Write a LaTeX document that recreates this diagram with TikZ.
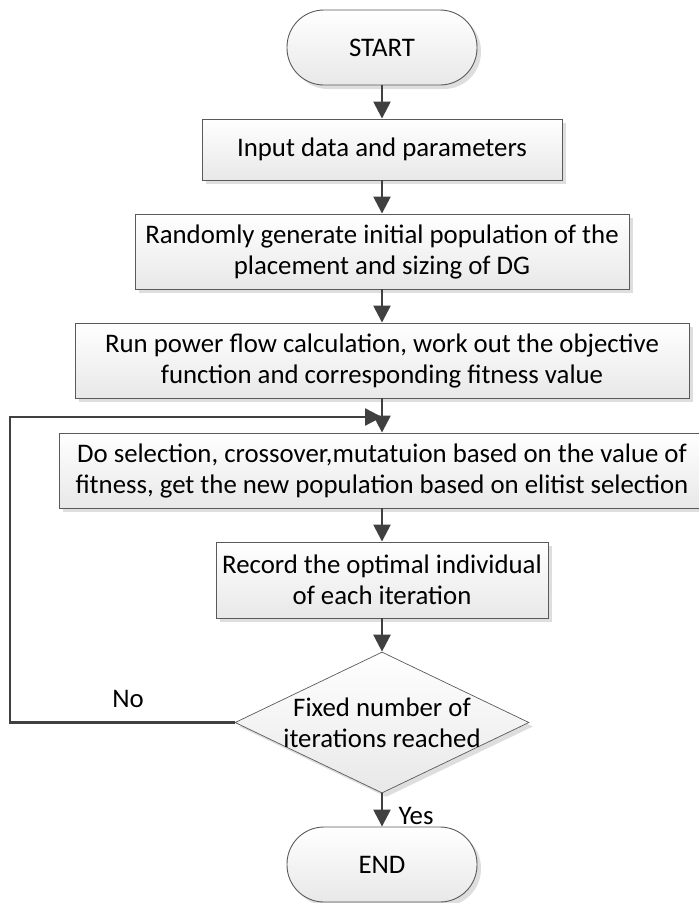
\documentclass[tikz,border=0pt]{standalone}
\usepackage{fontspec}
\setmainfont{Carlito}
\usetikzlibrary{shapes.geometric,arrows.meta,shadows}
\definecolor{linegray}{HTML}{404040}
\definecolor{boxborder}{HTML}{5A5A5A}
\tikzset{
  box/.style={draw=boxborder, line width=0.9pt, top color=white, bottom color=black!9,
    general shadow={fill=black!13, shadow xshift=4pt, shadow yshift=-4pt},
    align=center, inner sep=0pt, font=\fontsize{26.8}{31}\selectfont},
  term/.style={box, rounded corners=37pt, minimum width=190pt, minimum height=75pt},
  decbox/.style={draw=boxborder, line width=0.7pt, diamond, top color=white, bottom color=black!9,
    general shadow={fill=black!13, shadow xshift=4pt, shadow yshift=-4pt},
    minimum width=294pt, minimum height=141pt, inner sep=0pt},
  arr/.style={draw=linegray, line width=2.5pt, -{Triangle[length=17pt,width=17pt]}},
  lbl/.style={font=\fontsize{26.8}{31}\selectfont, inner sep=0pt}
}
\begin{document}
\begin{tikzpicture}[x=1pt,y=-1pt]
\useasboundingbox (0,0) rectangle (699,903);
\node[term] (start) at (382,47.5) {START};
\node[box, minimum width=360pt, minimum height=61pt] (input) at (382,149.5) {Input data and parameters};
\node[box, minimum width=494pt, minimum height=75pt] (random) at (382,251.5) {Randomly generate initial population of the\\placement and sizing of DG};
\node[box, minimum width=614pt, minimum height=75pt] (run) at (382,360.5) {Run power flow calculation, work out the objective\\function and corresponding fitness value};
\node[box, minimum width=646pt, minimum height=75pt] (dosel) at (382,470.5) {Do selection, crossover,mutatuion based on the value of\\fitness, get the new population based on elitist selection};
\node[box, minimum width=332pt, minimum height=76pt] (record) at (382,580) {Record the optimal individual\\of each iteration};
\node[decbox] (dec) at (382,722.5) {};
\node[lbl, align=center] (dectext) at (382,722.5) {Fixed number of\\iterations reached};
\node[term] (end) at (382,864.5) {END};
\node[lbl] (yes) at (416,816) {Yes};
\node[lbl] (no) at (128,699) {No};
\coordinate (c1) at (10,722.5);
\coordinate (c2) at (10,417);
\coordinate (merge) at (382,417);
\draw[arr] (start) -- (input);
\draw[arr] (input) -- (random);
\draw[arr] (random) -- (run);
\draw[arr] (run) -- (dosel);
\draw[arr] (dosel) -- (record);
\draw[arr] (record) -- (dec);
\draw[arr] (dec) -- (end);
\draw[arr, line cap=butt] (dec.west) -- (c1) -- (c2) -- (merge);
\end{tikzpicture}
\end{document}
